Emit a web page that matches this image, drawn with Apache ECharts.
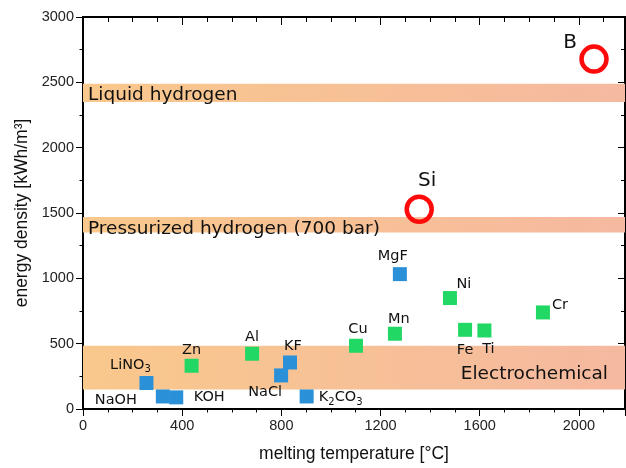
<!DOCTYPE html>
<html><head><meta charset="utf-8">
<script src="https://cdn.jsdelivr.net/npm/echarts@6/dist/echarts.min.js"></script>
<style>html,body{margin:0;padding:0;background:#fff}#c{width:626px;height:468px}</style>
</head><body><div id="c"></div>
<script>
// ---- data ----
const saltNames = ['LiNO3', 'NaOH', 'KOH', 'NaCl', 'KF', 'K2CO3', 'MgF'];
const saltTemp  = [256, 322, 376, 799, 835, 902, 1278];
const saltEnergy = [199, 96, 89, 257, 356, 96, 1032];

const metalNames = ['Zn', 'Al', 'Cu', 'Mn', 'Ni', 'Fe', 'Ti', 'Cr'];
const metalTemp  = [438, 682, 1101, 1258, 1480, 1541, 1619, 1855];
const metalEnergy = [331, 423, 484, 576, 849, 606, 601, 739];

const otherNames = ['Si', 'B'];
const otherTemp  = [1356, 2061];
const otherEnergy = [1529, 2678];

const bandNames = ['Liquid hydrogen', 'Pressurized hydrogen (700 bar)', 'Electrochemical'];
const bandLow  = [2350, 1350, 150];
const bandHigh = [2490, 1470, 485];

const xTicks = [0, 400, 800, 1200, 1600, 2000];
const yTicks = [0, 500, 1000, 1500, 2000, 2500, 3000];

// ---- styles (label placement) ----
const labelOffsets = {
  LiNO3: [-16, -18], NaOH: [-47, 4], KOH: [33, 0], NaCl: [-16, 17], KF: [3, -16],
  K2CO3: [34, 1], MgF: [-7, -18], Zn: [0, -16], Al: [0, -16], Cu: [2, -17],
  Mn: [4, -15], Ni: [14, -14], Fe: [0, 20], Ti: [4, 19], Cr: [17, -7],
  Si: [8, -28], B: [-24, -16]
};
const LABEL_FONT = 'DejaVu Sans';
const richSub = {
  n: { fontFamily: LABEL_FONT, fontSize: 14.5, color: '#111' },
  s: { fontFamily: LABEL_FONT, fontSize: 10, color: '#111', padding: [9, 0, 0, 0] }
};
function fmtName(n) {
  if (n === 'LiNO3') return '{n|LiNO}{s|3}';
  if (n === 'K2CO3') return '{n|K}{s|2}{n|CO}{s|3}';
  return '{n|' + n + '}';
}
function mkPoints(names, xs, ys, big) {
  return names.map((n, i) => ({
    value: [xs[i], ys[i]],
    name: n,
    label: {
      show: true, position: 'inside', offset: labelOffsets[n],
      formatter: fmtName(n),
      rich: big ? { n: { fontFamily: LABEL_FONT, fontSize: 20, color: '#111' } } : richSub
    }
  }));
}

const bandGradient = () => new echarts.graphic.LinearGradient(0, 0, 1, 0, [
  { offset: 0, color: '#f9c88c' }, { offset: 1, color: '#f5b9a0' }
]);
const bandLabels = [
  { position: 'insideLeft', offset: [0, 2] },
  { position: 'insideLeft', offset: [0, 4] },
  { position: 'insideRight', offset: [-12, 7] }
];

const chart = echarts.init(document.getElementById('c'), null, { renderer: 'canvas' });
const axisFont = { fontFamily: 'Liberation Sans', fontSize: 14.5, color: '#222' };
const nameFont = { fontFamily: 'Liberation Sans', fontSize: 17.5, color: '#111' };
const xMax = 2186;
const lineCol = '#000';
const axLine = () => ({ show: true, onZero: false, lineStyle: { color: lineCol, width: 2 } });

chart.setOption({
  animation: false,
  backgroundColor: '#fff',
  grid: { left: 83, right: 1, top: 17, bottom: 59, outerBoundsMode: 'none',
    show: true, borderColor: lineCol, borderWidth: 2 },
  xAxis: [
    {
      type: 'value', gridIndex: 0, min: 0, max: xMax, interval: 400, position: 'bottom',
      axisLine: axLine(), splitLine: { show: false },
      axisTick: { show: true, length: 7, lineStyle: { color: lineCol } },
      minorTick: { show: true, splitNumber: 4, length: 3.5, lineStyle: { color: lineCol } },
      name: 'melting temperature [°C]', nameLocation: 'middle', nameGap: 36,
      nameTextStyle: nameFont,
      axisLabel: Object.assign({ margin: 9, showMaxLabel: false,
        formatter: v => xTicks.includes(v) ? String(v) : '' }, axisFont)
    },
    {
      type: 'value', gridIndex: 0, min: 0, max: xMax, interval: 400, position: 'top',
      axisLine: axLine(), splitLine: { show: false },
      axisTick: { show: true, inside: true, length: 8, lineStyle: { color: lineCol } },
      minorTick: { show: true, splitNumber: 4, length: 5, lineStyle: { color: lineCol } },
      axisLabel: { show: false }
    }
  ],
  yAxis: [
    {
      type: 'value', gridIndex: 0, min: 0, max: 3000, interval: 500, position: 'left',
      axisLine: axLine(), splitLine: { show: false },
      axisTick: { show: true, length: 7, lineStyle: { color: lineCol } },
      minorTick: { show: true, splitNumber: 2, length: 3.5, lineStyle: { color: lineCol } },
      name: 'energy density [kWh/m³]', nameLocation: 'middle', nameGap: 52,
      nameTextStyle: nameFont,
      axisLabel: Object.assign({ margin: 9,
        formatter: v => yTicks.includes(v) ? String(v) : '' }, axisFont)
    },
    {
      type: 'value', gridIndex: 0, min: 0, max: 3000, interval: 500, position: 'right',
      axisLine: axLine(), splitLine: { show: false },
      axisTick: { show: true, inside: true, length: 7, lineStyle: { color: lineCol } },
      minorTick: { show: true, splitNumber: 2, length: 4, lineStyle: { color: lineCol } },
      axisLabel: { show: false }
    }
  ],
  series: [
    {
      type: 'scatter', data: [], z: 1, silent: true,
      markArea: {
        silent: true,
        data: bandNames.map((n, i) => [
          { yAxis: bandLow[i], xAxis: 0, name: n,
            itemStyle: { color: bandGradient() },
            label: Object.assign({ show: true, formatter: n,
              fontFamily: LABEL_FONT, fontSize: 18.5, color: '#111' }, bandLabels[i]) },
          { yAxis: bandHigh[i], xAxis: xMax }
        ])
      }
    },
    {
      type: 'scatter', z: 3, symbol: 'rect', symbolSize: 14,
      itemStyle: { color: '#2a90d8', opacity: 1 },
      data: mkPoints(saltNames, saltTemp, saltEnergy, false)
    },
    {
      type: 'scatter', z: 3, symbol: 'rect', symbolSize: 14,
      itemStyle: { color: '#22d865', opacity: 1 },
      data: mkPoints(metalNames, metalTemp, metalEnergy, false)
    },
    {
      type: 'scatter', z: 3, symbol: 'circle', symbolSize: 25,
      itemStyle: { color: 'rgba(255,255,255,0)', borderColor: '#ff0a0a', borderWidth: 4.5, opacity: 1 },
      data: mkPoints(otherNames, otherTemp, otherEnergy, true)
    }
  ]
});
</script></body></html>
